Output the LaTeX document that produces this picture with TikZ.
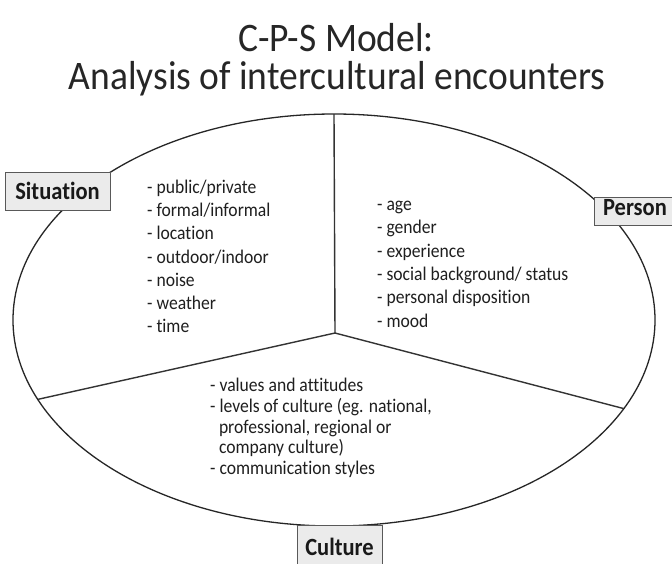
\documentclass[tikz,border=0pt]{standalone}
\usepackage{fontspec}
\setmainfont{Carlito}[Ligatures=NoCommon]
\usetikzlibrary{shapes.geometric}
\newcommand{\vstretch}[1]{\scalebox{1}[1.1]{#1}}
\begin{document}
\begin{tikzpicture}[x=1pt,y=-1pt,
  oval/.style={ellipse, draw=black!85, line width=1.3pt, minimum width=642pt, minimum height=412pt, inner sep=0pt, outer sep=0pt},
  divider/.style={draw=black!80, line width=1.4pt},
  labelbox/.style={draw=black!65, line width=1pt, fill=black!8, font=\fontsize{22.5}{27}\selectfont\bfseries, text=black!90, inner sep=0pt},
  listtext/.style={anchor=base west, inner sep=0pt, text=black!88},
  titletext/.style={font=\fontsize{37.5}{44}\selectfont, text=black!85, anchor=base, inner sep=0pt}
]
\clip (0,0) rectangle (672,563);
\fill[white] (0,0) rectangle (672,563);
\node[titletext] (t1) at (336,51) {\scalebox{1}[1.08]{C-P-S Model:}};
\node[titletext] (t2) at (337,89) {\scalebox{1}[1.08]{Analysis of intercultural encounters}};
\node[oval] (oval) at (334,320) {};
\coordinate (hub) at (335,333);
\draw[divider] (oval.north) -- (hub);
\draw[divider] (hub) -- (oval.195.4);
\draw[divider] (hub) -- (oval.343.2);
\node[labelbox, minimum width=105pt, minimum height=38pt] (sit) at (57.5,191) {\vstretch{Situation}};
\node[labelbox, minimum width=82pt, minimum height=28pt, text depth=7pt] (per) at (635,211) {\vstretch{Person}};
\node[labelbox, minimum width=85pt, minimum height=43pt] (cul) at (339.5,546.5) {\vstretch{Culture}};
\node[listtext, font=\fontsize{17.6}{21.1}\selectfont] (sitlist) at (147,193.5) {\vstretch{\parbox[t]{200pt}{\raggedright
- public/private\\- formal/informal\\- location\\- outdoor/indoor\\- noise\\- weather\\- time}}};
\node[listtext, font=\fontsize{17.6}{21.2}\selectfont] (perlist) at (377,210.5) {\vstretch{\parbox[t]{230pt}{\raggedright
- age\\- gender\\- experience\\- social background/ status\\- personal disposition\\- mood}}};
\node[listtext, font=\fontsize{17.6}{18.9}\selectfont] (cullist) at (210,391.5) {\vstretch{\parbox[t]{260pt}{\raggedright
- values and attitudes\\- levels of culture (eg. national,\\\hspace*{8.8pt}professional, regional or\\\hspace*{8.8pt}company culture)\\- communication styles}}};
\end{tikzpicture}
\end{document}
